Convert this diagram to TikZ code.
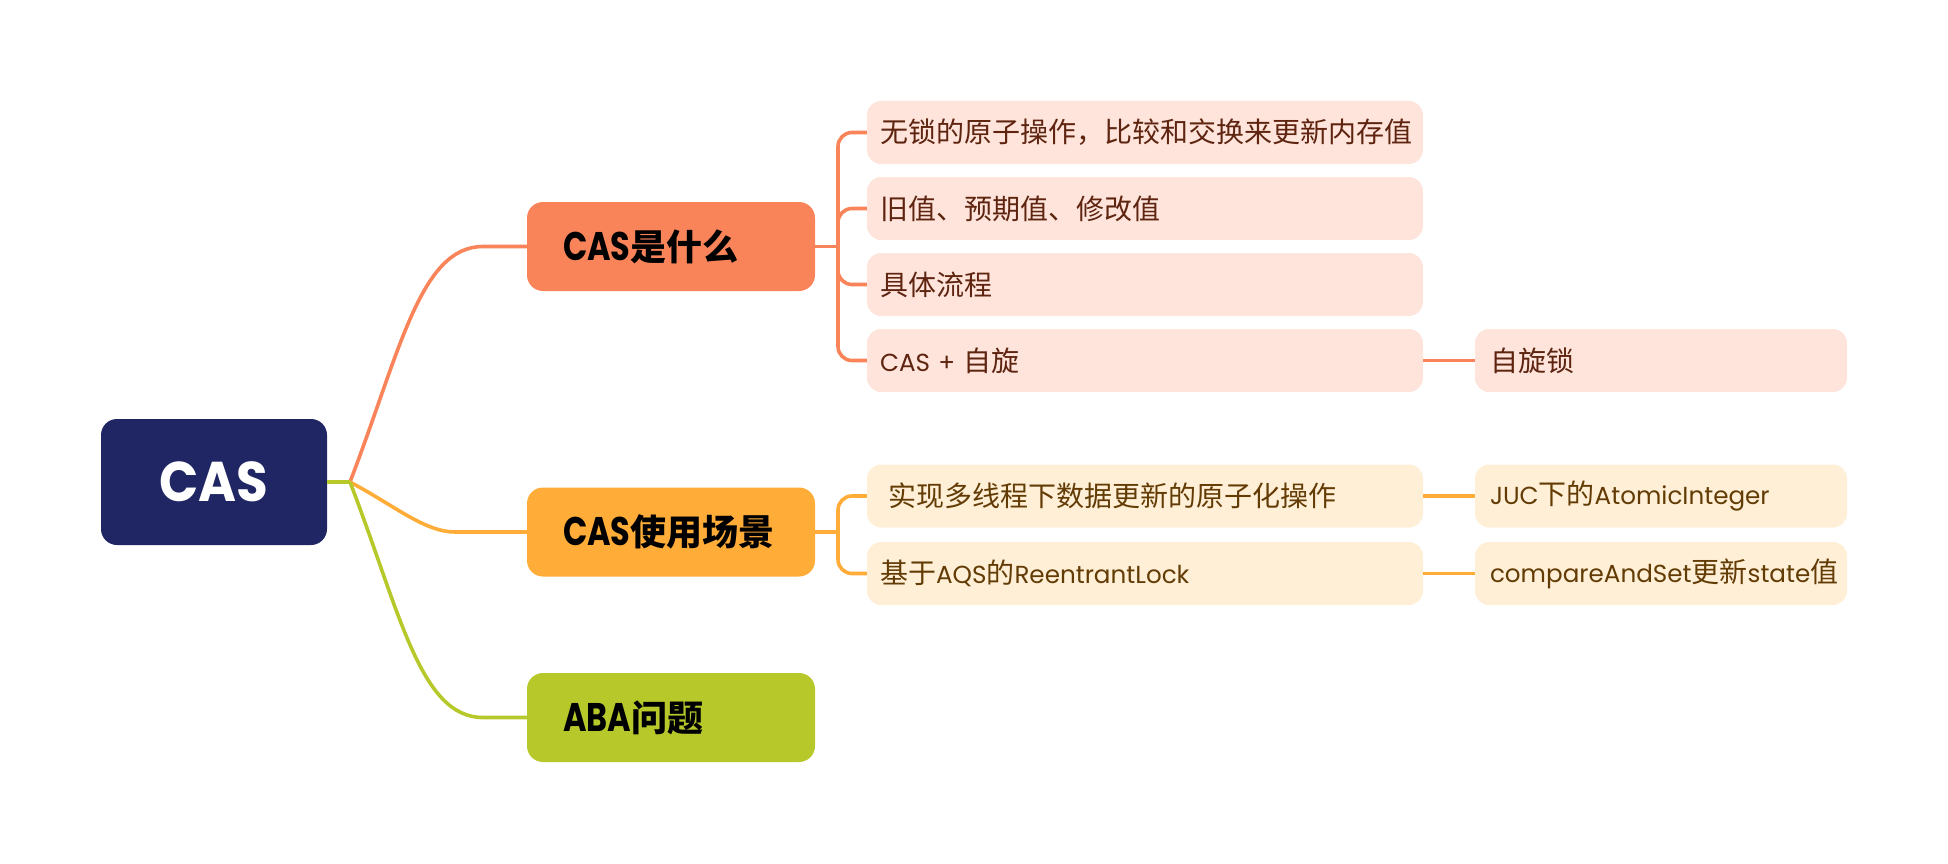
\documentclass[tikz,border=0pt]{standalone}
\usepackage{fontspec}
\setmainfont{Poppins}[Scale=0.88]
\newfontfamily\cjk{Noto Sans CJK SC}
\newfontfamily\hb{Poppins}[Scale=1.11, FakeStretch=0.8]
\newfontfamily\rb{Poppins}[FakeStretch=0.92]
\definecolor{rootc}{HTML}{202664}
\definecolor{orc}{HTML}{FA8459}
\definecolor{yec}{HTML}{FFAC38}
\definecolor{grc}{HTML}{B7C82B}
\definecolor{orl}{HTML}{FEE4DB}
\definecolor{yel}{HTML}{FFEFD7}
\definecolor{ort}{HTML}{5E2410}
\definecolor{yet}{HTML}{633C05}
\begin{document}
\begin{tikzpicture}[x=1pt,y=-1pt,
  rootbox/.style={fill=rootc, rounded corners=16pt, text=white, minimum width=226pt, minimum height=126pt, inner sep=0pt, font=\rb\fontsize{56}{66}\selectfont\bfseries},
  lone/.style={rounded corners=16pt, minimum width=288pt, minimum height=89pt, text width=216pt, inner xsep=36pt, inner ysep=0pt, align=left, font=\fontsize{36}{42}\selectfont\bfseries, text=black},
  ltwo/.style={rounded corners=14pt, minimum width=556pt, minimum height=63pt, text width=530pt, inner xsep=13pt, inner ysep=0pt, align=left, font=\fontsize{28}{34}\selectfont},
  lthree/.style={rounded corners=14pt, minimum width=372pt, minimum height=63pt, text width=342pt, inner xsep=15pt, inner ysep=0pt, align=left, font=\fontsize{28}{34}\selectfont},
  ob/.style={fill=orl, text=ort},
  yb/.style={fill=yel, text=yet},
  conn/.style={line width=3.6pt},
]
\useasboundingbox (0,0) rectangle (1948,864);

% root
\node[rootbox] (r) at (214,482) {CAS};
\coordinate (j) at (350,482);

% level 1
\node[lone, fill=orc] (a) at (671,246.5) {{\hb CAS}{\cjk 是什么}};
\node[lone, fill=yec] (b) at (671,532) {{\hb CAS}{\cjk 使用场景}};
\node[lone, fill=grc] (c) at (671,717.5) {{\hb ABA}{\cjk 问题}};

% level 2
\node[ltwo, ob] (a1) at (1145,132.5) {{\cjk 无锁的原子操作，比较和交换来更新内存值}};
\node[ltwo, ob] (a2) at (1145,208.5) {{\cjk 旧值、预期值、修改值}};
\node[ltwo, ob] (a3) at (1145,284.5) {{\cjk 具体流程}};
\node[ltwo, ob] (a4) at (1145,360.5) {CAS + {\cjk 自旋}};
\node[ltwo, yb] (b1) at (1145,496) {\hspace*{8pt}{\cjk 实现多线程下数据更新的原子化操作}};
\node[ltwo, yb] (b2) at (1145,573.5) {{\cjk 基于}AQS{\cjk 的}ReentrantLock};

% level 3
\node[lthree, ob] (a41) at (1661,360.5) {{\cjk 自旋锁}};
\node[lthree, yb] (b11) at (1661,496) {JUC{\cjk 下的}AtomicInteger};
\node[lthree, yb] (b21) at (1661,573.5) {compareAndSet{\cjk 更新}state{\cjk 值}};

% root branches
\draw[conn, orc] (j) .. controls (400,352) and (420,246.5) .. (483,246.5) -- (a.west);
\draw[conn, yec] (j) .. controls (395,506) and (425,532) .. (455,532) -- (b.west);
\draw[conn, grc] (j) .. controls (400,612) and (420,717.5) .. (483,717.5) -- (c.west);
\draw[conn, grc] (r.east) -- (j);

% buses
\coordinate (ab) at (838,246.5);
\draw[conn, orc] (a.east) -- (ab);
\foreach \k in {a1,a2,a3,a4}{\draw[conn, orc, rounded corners=14pt] (ab) |- (\k.west);}
\coordinate (bb) at (838,532);
\draw[conn, yec] (b.east) -- (bb);
\foreach \k in {b1,b2}{\draw[conn, yec, rounded corners=14pt] (bb) |- (\k.west);}

% level 2 -> 3
\draw[conn, orc] (a4.east) -- (a41.west);
\draw[conn, yec] (b1.east) -- (b11.west);
\draw[conn, yec] (b2.east) -- (b21.west);
\end{tikzpicture}
\end{document}
